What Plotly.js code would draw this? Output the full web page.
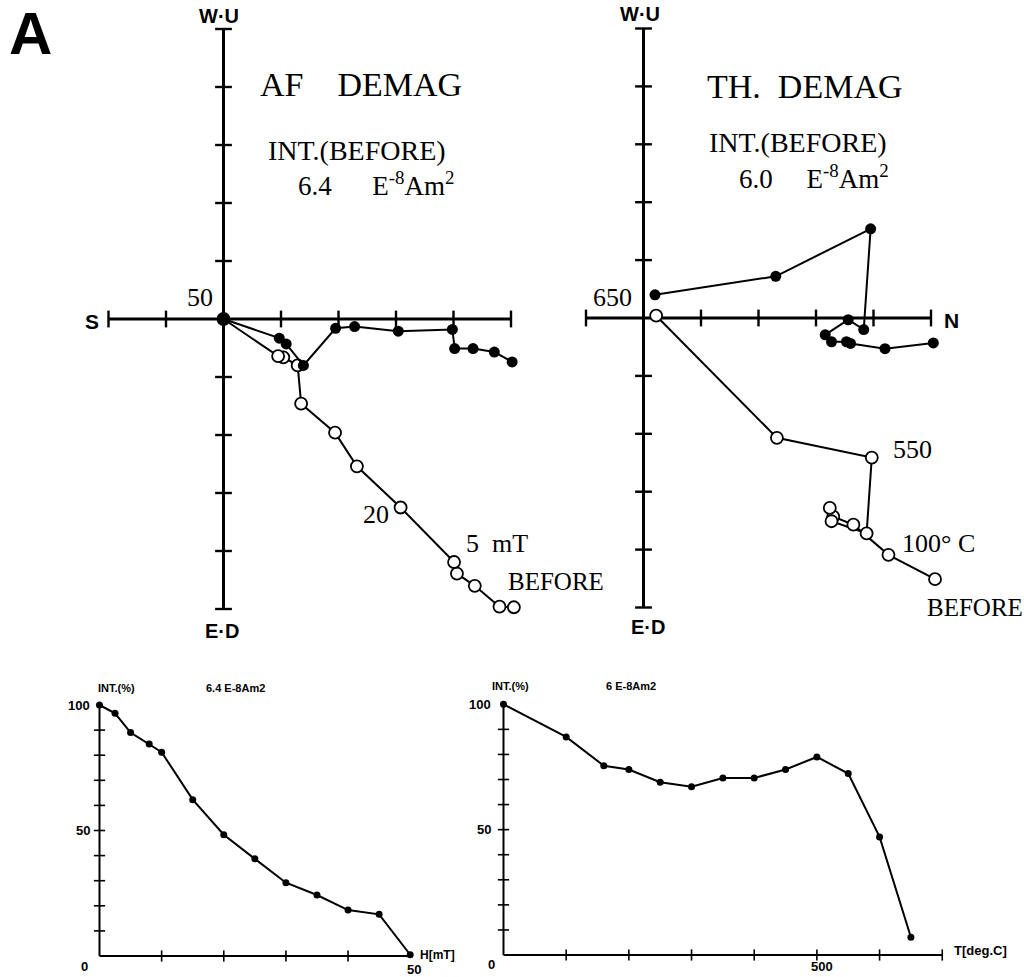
<!DOCTYPE html>
<html><head><meta charset="utf-8">
<script src="https://cdn.plot.ly/plotly-3.0.1.min.js"></script>
<style>html,body{margin:0;padding:0;background:#fff;}#chart{width:1024px;height:977px;}</style>
</head><body><div id="chart"></div>
<script>
// ---------- DATA ----------
// AF demagnetization, Zijderveld diagram (units = axis ticks)
const afHorizX = [5.02, 4.71, 4.34, 4.02, 3.98, 3.04, 2.28, 1.95, 1.39, 1.09, 0.97, 0];
const afHorizY = [-0.74, -0.57, -0.51, -0.51, -0.18, -0.21, -0.13, -0.16, -0.80, -0.43, -0.33, 0];
const afVertX = [5.05, 4.80, 4.37, 4.06, 4.01, 3.08, 2.32, 1.94, 1.35, 1.29, 1.04, 0.95, 0];
const afVertY = [-4.97, -4.96, -4.60, -4.39, -4.19, -3.25, -2.54, -1.96, -1.46, -0.80, -0.66, -0.64, 0];
// Thermal demagnetization, Zijderveld diagram
const thHorizX = [5.04, 4.20, 3.60, 3.53, 3.27, 3.16, 3.56, 3.83, 3.95, 2.30, 0.20];
const thHorizY = [-0.43, -0.53, -0.44, -0.41, -0.41, -0.29, -0.03, -0.20, 1.54, 0.72, 0.40];
const thVertX = [5.07, 4.26, 3.65, 3.30, 3.24, 3.27, 3.88, 3.97, 2.32, 0.22];
const thVertY = [-4.51, -4.09, -3.57, -3.43, -3.28, -3.51, -3.72, -2.41, -2.07, 0.04];
// Intensity decay curves
const afField = [0, 2.5, 5, 8, 10, 15, 20, 25, 30, 35, 40, 45, 50];
const afInt = [100, 96.7, 89, 84.5, 81.2, 62.3, 48.3, 38.7, 29.2, 24.3, 18.3, 16.6, 0.5];
const thTemp = [0, 100, 160, 200, 250, 300, 350, 400, 450, 500, 550, 600, 650];
const thInt = [100, 87, 75.5, 74, 68.9, 67.1, 70.6, 70.6, 74, 79, 72.4, 47.1, 7.1];
// Axis extents and ticks
const afZijH = [-2, 5], afZijV = [-5, 5];
const thZijH = [-1, 5], thZijV = [-5, 5];
const afZijTicksH = [-2, -1, 1, 2, 3, 4, 5];
const thZijTicksH = [-1, 1, 2, 3, 4, 5];
const zijTicksV = [-5, -4, -3, -2, -1, 1, 2, 3, 4, 5];
const intTicksY = [10, 20, 30, 40, 50, 60, 70, 80, 90];
const afTicksX = [10, 20, 30, 40];
const thTicksX = [100, 200, 300, 400, 500, 600, 700];
const intYLabelVals = [100, 50];
const intYLabelText = ['100', '50'];
const afXLabelVals = [50];
const afXLabelText = ['50'];
const thXLabelVals = [500];
const thXLabelText = ['500'];

// ---------- LAYOUT HELPERS ----------
const W = 1024, H = 977;
const PX = p => p / W, PY = p => 1 - p / H;
function domX(ox, s, r) { return [(ox + r[0] * s) / W, (ox + r[1] * s) / W]; }
function domY(oy, s, r) { return [1 - (oy - r[0] * s) / H, 1 - (oy - r[1] * s) / H]; }
const ax = (dom, rng, anchor) => ({domain: dom, range: rng, visible: false, fixedrange: true, anchor: anchor, showgrid: false, zeroline: false});

const R1x = [-3.7, 5.6], R1y = [-5.4, 5.4];
const R2x = [-1.5, 5.8], R2y = [-5.4, 5.4];
const R3x = [-5, 58], R3y = [-6, 106];
const R4x = [-30, 760], R4y = [-6, 106];

const traces = [];
function axisLines(xa, ya, hx, vy, hTicks, vTicks, w, tsize) {
  traces.push({x: [hx[0], hx[1]], y: [0, 0], xaxis: xa, yaxis: ya, mode: 'lines', line: {color: '#000', width: w}, hoverinfo: 'skip', cliponaxis: false});
  traces.push({x: [0, 0], y: [vy[0], vy[1]], xaxis: xa, yaxis: ya, mode: 'lines', line: {color: '#000', width: w}, hoverinfo: 'skip', cliponaxis: false});
  traces.push({x: hTicks, y: hTicks.map(() => 0), xaxis: xa, yaxis: ya, mode: 'markers', marker: {symbol: 'line-ns', size: tsize, line: {color: '#000', width: w * 0.8}}, hoverinfo: 'skip', cliponaxis: false});
  traces.push({x: vTicks.map(() => 0), y: vTicks, xaxis: xa, yaxis: ya, mode: 'markers', marker: {symbol: 'line-ew', size: tsize, line: {color: '#000', width: w * 0.8}}, hoverinfo: 'skip', cliponaxis: false});
}
function openPath(xa, ya, xs, ys) {
  traces.push({x: xs, y: ys, xaxis: xa, yaxis: ya, mode: 'lines+markers', line: {color: '#000', width: 2}, marker: {size: 12, color: '#fff', line: {color: '#000', width: 1.8}}, hoverinfo: 'skip', cliponaxis: false});
}
function filledPath(xa, ya, xs, ys, size) {
  traces.push({x: xs, y: ys, xaxis: xa, yaxis: ya, mode: 'lines+markers', line: {color: '#000', width: 2}, marker: {size: size, color: '#000'}, hoverinfo: 'skip', cliponaxis: false});
}

// Top-left: AF Zijderveld
axisLines('x', 'y', afZijH, afZijV, afZijTicksH, zijTicksV, 3, 12);
openPath('x', 'y', afVertX, afVertY);
filledPath('x', 'y', afHorizX, afHorizY, 11);
// Top-right: thermal Zijderveld
axisLines('x2', 'y2', thZijH, thZijV, thZijTicksH, zijTicksV, 3, 12);
openPath('x2', 'y2', thVertX, thVertY);
filledPath('x2', 'y2', thHorizX, thHorizY, 11);
// Bottom-left: AF intensity
axisLines('x3', 'y3', [0, 50], [0, 100], afTicksX, intTicksY, 2, 8);
filledPath('x3', 'y3', afField, afInt, 7);
// Bottom-right: thermal intensity
axisLines('x4', 'y4', [0, 700], [0, 100], thTicksX, intTicksY, 2, 8);
filledPath('x4', 'y4', thTemp, thInt, 7);

const serif = 'Liberation Serif, Times New Roman, serif';
const sans = 'Liberation Sans, Arial, sans-serif';
function A(text, px, py, size, fam, opts) {
  return Object.assign({text: text, x: PX(px), y: PY(py), xref: 'paper', yref: 'paper', showarrow: false,
    xanchor: 'center', yanchor: 'middle', font: {family: fam, size: size, color: '#000'}}, opts || {});
}
const ann = [
  A('<b>A</b>', 30, 34, 60, sans),
  A('<b>W·U</b>', 219, 16, 20, sans),
  A('<b>W·U</b>', 640, 14, 20, sans),
  A('<b>S</b>', 92, 321, 21, sans),
  A('<b>N</b>', 951, 320, 21, sans),
  A('<b>E·D</b>', 222, 631, 20, sans),
  A('<b>E·D</b>', 648, 627, 20, sans),
  A('AF    DEMAG', 258, 84, 34, serif, {xanchor: 'left'}),
  A('INT.(BEFORE)', 266, 151, 28, serif, {xanchor: 'left'}),
  A('6.4      E<sup>-8</sup>Am<sup>2</sup>', 296, 184, 27, serif, {xanchor: 'left'}),
  A('TH.  DEMAG', 705, 86, 34, serif, {xanchor: 'left'}),
  A('INT.(BEFORE)', 707, 143, 28, serif, {xanchor: 'left'}),
  A('6.0     E<sup>-8</sup>Am<sup>2</sup>', 737, 177, 27, serif, {xanchor: 'left'}),
  A('50', 200, 298, 26, serif),
  A('20', 376, 514, 26, serif),
  A('5  mT', 497, 543, 26, serif),
  A('BEFORE', 556, 581, 25, serif),
  A('650', 612, 297, 26, serif),
  A('550', 912, 449, 26, serif),
  A('100° C', 938, 543, 26, serif),
  A('BEFORE', 975, 607, 25, serif),
  A('<b>INT.(%)</b>', 116, 688, 11, sans),
  A('<b>6.4 E-8Am2</b>', 235, 688, 11, sans),
  A('<b>INT.(%)</b>', 510, 686, 11, sans),
  A('<b>6 E-8Am2</b>', 631, 686, 11, sans),
  A('<b>H[mT]</b>', 418, 955, 12, sans, {xanchor: 'left'}),
  A('<b>T[deg.C]</b>', 952, 950, 13, sans, {xanchor: 'left'})
];
// tick labels via data coordinates
intYLabelVals.forEach((v, i) => {
  ann.push({text: '<b>' + intYLabelText[i] + '</b>', x: 0, y: v, xref: 'x3', yref: 'y3', showarrow: false, xanchor: 'right', yanchor: 'middle', xshift: -8, font: {family: sans, size: 13, color: '#000'}});
  ann.push({text: '<b>' + intYLabelText[i] + '</b>', x: 0, y: v, xref: 'x4', yref: 'y4', showarrow: false, xanchor: 'right', yanchor: 'middle', xshift: -10, font: {family: sans, size: 13, color: '#000'}});
});
ann.push({text: '<b>0</b>', x: 0, y: 0, xref: 'x3', yref: 'y3', showarrow: false, xanchor: 'center', yanchor: 'middle', xshift: -15, yshift: -10, font: {family: sans, size: 13, color: '#000'}});
ann.push({text: '<b>0</b>', x: 0, y: 0, xref: 'x4', yref: 'y4', showarrow: false, xanchor: 'center', yanchor: 'middle', xshift: -12, yshift: -10, font: {family: sans, size: 13, color: '#000'}});
afXLabelVals.forEach((v, i) => ann.push({text: '<b>' + afXLabelText[i] + '</b>', x: v, y: 0, xref: 'x3', yref: 'y3', showarrow: false, xanchor: 'center', yanchor: 'middle', yshift: -13, xshift: 4, font: {family: sans, size: 13, color: '#000'}}));
thXLabelVals.forEach((v, i) => ann.push({text: '<b>' + thXLabelText[i] + '</b>', x: v, y: 0, xref: 'x4', yref: 'y4', showarrow: false, xanchor: 'center', yanchor: 'middle', yshift: -12, xshift: 5, font: {family: sans, size: 13, color: '#000'}}));

const layout = {
  width: W, height: H, margin: {l: 0, r: 0, t: 0, b: 0},
  paper_bgcolor: '#fff', plot_bgcolor: 'rgba(0,0,0,0)', showlegend: false,
  xaxis: ax(domX(223.5, 57.5, R1x), R1x, 'y'), yaxis: ax(domY(319, 58, R1y), R1y, 'x'),
  xaxis2: ax(domX(643.5, 57.5, R2x), R2x, 'y2'), yaxis2: ax(domY(318, 57.9, R2y), R2y, 'x2'),
  xaxis3: ax(domX(99.5, 6.214, R3x), R3x, 'y3'), yaxis3: ax(domY(956, 2.51, R3y), R3y, 'x3'),
  xaxis4: ax(domX(503.5, 0.6268, R4x), R4x, 'y4'), yaxis4: ax(domY(955, 2.507, R4y), R4y, 'x4'),
  annotations: ann
};
Plotly.newPlot('chart', traces, layout, {staticPlot: true, displayModeBar: false});
</script></body></html>
